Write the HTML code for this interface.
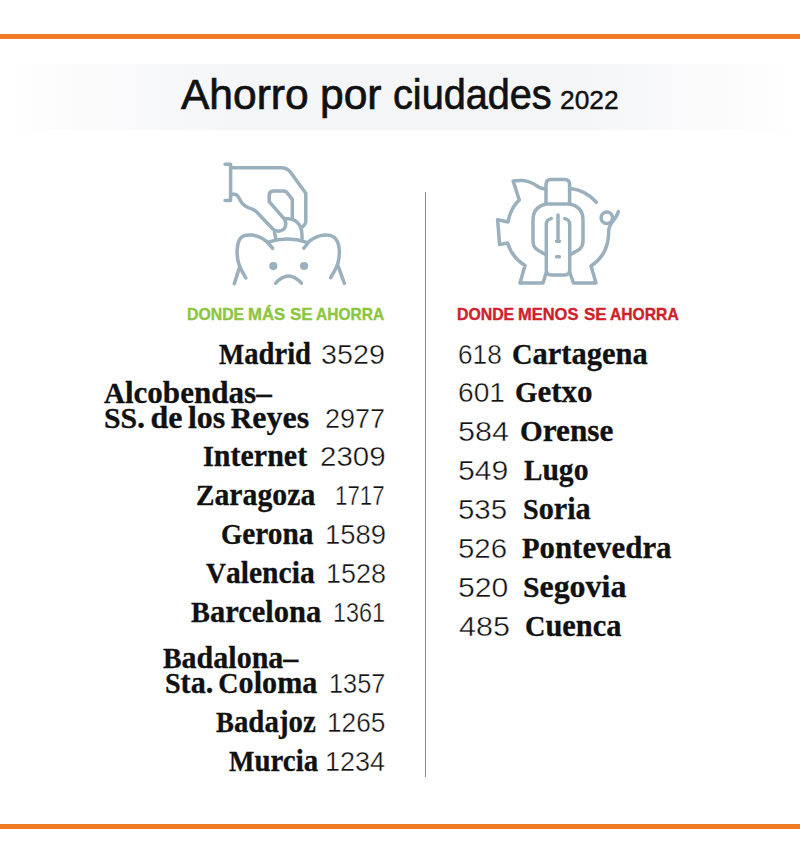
<!DOCTYPE html>
<html lang="es"><head><meta charset="utf-8"><title>Ahorro por ciudades 2022</title>
<style>
html,body{margin:0;padding:0;background:#fff;}
body{width:800px;height:863px;position:relative;overflow:hidden;font-family:"Liberation Sans",sans-serif;}
.bar{position:absolute;left:0;width:800px;height:5px;background:#f07a25;}
.band{position:absolute;left:0;top:64px;width:800px;height:66px;background:linear-gradient(90deg,#fff 0%,#fbfbfc 10%,#f4f5f7 32%,#f4f5f7 70%,#fbfbfc 90%,#fff 100%);}
.div{position:absolute;left:425px;top:192px;width:1.4px;height:585px;background:#8a8a8a;}
span{position:absolute;white-space:nowrap;line-height:1;transform-origin:0 0;display:block;}
.t,.t2,.h,.n{font-family:"Liberation Sans",sans-serif;}
.h{font-weight:700;}
.c{font-family:"Liberation Serif",serif;font-weight:700;word-spacing:-2.5px;-webkit-text-stroke:0.3px #111;}
.n{-webkit-text-stroke:0.4px #fff;}
.t{-webkit-text-stroke:0.7px #111;}
.t2{-webkit-text-stroke:0.4px #111;}
.h{-webkit-text-stroke:0.35px currentColor;}
i{font-style:normal;font-size:.93em;}
svg{position:absolute;left:0;top:0;}
</style></head><body>
<div class="bar" style="top:34px"></div>
<div class="band"></div>
<div class="div"></div>
<svg width="800" height="863" viewBox="0 0 800 863" fill="none" stroke="#9bb0bd" stroke-width="3.5" stroke-linecap="round" stroke-linejoin="round">
<!-- icon 1: hand dropping coin in sad piggy -->
<path d="M225 164.2H230.6V200.4H225"/>
<path d="M230.6 167.7H281.5Q287 167.7 290.3 172L305.8 193.2V221.5Q305.8 224 302.4 227"/>
<path d="M230.6 194.3H235Q237.3 194.5 239.5 199Q242.5 205.5 248.5 207.6Q254 209.3 256.5 211.8L272.8 229Q275 231.2 278.5 231.2Q285.8 230.6 285.8 223.5Q285.8 220.8 283.6 218.2L269.2 201.6V195.5Q269.2 190.9 273.8 190.9H283.6Q285.6 190.9 287 192.6L292.3 199.4V217.5"/>
<path d="M286.6 218.6C287.7 218.8 291.1 218.8 293.1 219.7C295.1 220.6 297.2 222.1 298.6 223.8C300.0 225.5 300.8 227.3 301.4 229.8C302.0 232.3 302.0 237.1 302.1 238.6"/>
<path d="M274.5 232L275.8 239"/>
<!-- pig head -->
<path d="M267.5 242.3Q287.4 235.6 307 242.3"/>
<path d="M272.6 248.3C271.4 247.0 268.0 242.6 265.6 240.7C263.2 238.8 260.8 237.6 258.5 236.7C256.2 235.8 253.9 235.3 251.8 235.1C249.7 234.9 247.7 235.0 246.1 235.3C244.5 235.6 243.2 235.9 242.0 236.9C240.8 237.9 239.5 239.2 238.7 241.3C237.9 243.4 237.4 246.3 237.2 249.3C237.0 252.3 237.2 256.1 237.7 259.1C238.2 262.1 238.8 264.1 240.1 267.2C241.4 270.3 244.9 276.2 245.8 278.0"/>
<path d="M239.8 266.4L234.3 283.7"/>
<path d="M303.9 248.1C305.0 246.8 308.1 242.3 310.4 240.4C312.7 238.5 315.1 237.5 317.5 236.6C319.9 235.7 322.9 235.3 325.0 235.1C327.1 234.9 328.4 235.1 329.9 235.4C331.4 235.8 332.6 236.1 333.9 237.2C335.2 238.3 336.6 239.8 337.5 241.8C338.4 243.8 339.0 246.4 339.2 249.3C339.4 252.2 339.3 256.1 338.8 259.1C338.3 262.1 337.8 264.1 336.4 267.2C335.0 270.3 331.6 275.9 330.7 277.7"/>
<path d="M337.9 265.5L344.4 283.4"/>
<circle cx="273.3" cy="266.1" r="4.1" fill="#9bb0bd" stroke="none"/>
<circle cx="304.1" cy="266" r="4.1" fill="#9bb0bd" stroke="none"/>
<path d="M275.6 283.2Q288.5 268.6 301.5 283.2"/>
<!-- icon 2: piggy bank with tightened belt -->
<path d="M546.0 189.3C544.9 189.0 541.6 188.4 539.3 187.3C537.0 186.2 534.7 184.1 532.0 183.0C529.3 181.9 526.2 181.0 523.0 180.6C519.8 180.2 514.8 180.9 513.1 180.9L519.3 200Q510.5 208 508 222L497.6 219.6L499.6 244.6L507.6 243Q512 257.5 525 265.6L520 283H543L546.2 272.5"/>
<path d="M569.8 272.5L573.5 283H596L591 266Q604 257.5 607.5 243Q608.8 236 608.7 230.5Q609 226 613.5 220.5Q617 216 618.4 211.6"/>
<circle cx="606.8" cy="217.8" r="5.7"/>
<path d="M570.3 188.6Q585 190 596.4 202.2"/>
<path d="M546 203.8V184.2Q546 179.4 550.8 179.4H564.8Q569.6 179.4 569.6 184.2V203.8"/>
<path d="M570 254.8L578 250.2Q583 247.5 583 241V220C583 211.5 578.5 205.8 569.6 204H546.4C537.5 205.8 533 211.5 533 220V241Q533 247.5 538 250.2L546 254.8"/>
<path d="M551.2 218.6Q546.3 219.5 546.3 224.5V270Q546.3 275 551.3 275H564.7Q569.7 275 569.7 270V224.5Q569.7 219.5 564.8 218.6"/>
<path d="M558 215V241M556.5 241.2H559.5M556.5 256.8H559.5"/>
</svg>

<span class="t" style="left:181.20px;top:74px;font-size:42px;color:#111;transform:scaleX(1.0128)">Ahorro</span>
<span class="t" style="left:320.47px;top:74px;font-size:42px;color:#111;transform:scaleX(1.0133)">por</span>
<span class="t" style="left:392.86px;top:74px;font-size:42px;color:#111;transform:scaleX(0.9439)">ciudades</span>
<span class="t2" style="left:560.17px;top:88px;font-size:25.5px;color:#111;transform:scaleX(1.0322)">2022</span>
<span class="h" style="left:186.92px;top:306px;font-size:16.2px;color:#8cc63f;transform:scaleX(0.9781)">DONDE</span>
<span class="h" style="left:247.77px;top:306px;font-size:16.2px;color:#8cc63f;transform:scaleX(1.0292)">MÁS</span>
<span class="h" style="left:290.20px;top:306px;font-size:16.2px;color:#8cc63f;transform:scaleX(1.0460)">SE</span>
<span class="h" style="left:316.00px;top:306px;font-size:16.2px;color:#8cc63f;transform:scaleX(0.9586)">AHORRA</span>
<span class="h" style="left:457.12px;top:306px;font-size:16.2px;color:#d0202a;transform:scaleX(0.9781)">DONDE</span>
<span class="h" style="left:517.98px;top:306px;font-size:16.2px;color:#d0202a;transform:scaleX(1.0177)">MENOS</span>
<span class="h" style="left:584.30px;top:306px;font-size:16.2px;color:#d0202a;transform:scaleX(1.0506)">SE</span>
<span class="h" style="left:609.60px;top:306px;font-size:16.2px;color:#d0202a;transform:scaleX(0.9670)">AHORRA</span>
<span class="c" style="left:219.00px;top:338px;font-size:31px;color:#111;transform:scaleX(0.9243)"><i>M</i>adrid</span>
<span class="n" style="left:321.49px;top:340px;font-size:28.5px;color:#111;transform:scaleX(1.0073)">3529</span>
<span class="c" style="left:103.80px;top:377px;font-size:31px;color:#111;transform:scaleX(1.0028)"><i>A</i>lcobendas–</span>
<span class="c" style="left:104.17px;top:402px;font-size:31px;color:#111;transform:scaleX(1.0325)"><i>SS</i>. de los <i>R</i>eyes</span>
<span class="n" style="left:325.05px;top:404px;font-size:28.5px;color:#111;transform:scaleX(0.9472)">2977</span>
<span class="c" style="left:203.20px;top:440px;font-size:31px;color:#111;transform:scaleX(0.9677)"><i>I</i>nternet</span>
<span class="n" style="left:320.17px;top:442px;font-size:28.5px;color:#111;transform:scaleX(1.0333)">2309</span>
<span class="c" style="left:196.24px;top:479px;font-size:31px;color:#111;transform:scaleX(0.9600)"><i>Z</i>aragoza</span>
<span class="n" style="left:335.44px;top:481px;font-size:28.5px;color:#111;transform:scaleX(0.7812)">1717</span>
<span class="c" style="left:221.05px;top:518px;font-size:31px;color:#111;transform:scaleX(0.9473)"><i>G</i>erona</span>
<span class="n" style="left:324.57px;top:520px;font-size:28.5px;color:#111;transform:scaleX(0.9628)">1589</span>
<span class="c" style="left:206.00px;top:557px;font-size:31px;color:#111;transform:scaleX(0.9554)"><i>V</i>alencia</span>
<span class="n" style="left:325.61px;top:559px;font-size:28.5px;color:#111;transform:scaleX(0.9463)">1528</span>
<span class="c" style="left:191.20px;top:596px;font-size:31px;color:#111;transform:scaleX(0.9849)"><i>B</i>arcelona</span>
<span class="n" style="left:332.86px;top:598px;font-size:28.5px;color:#111;transform:scaleX(0.8224)">1361</span>
<span class="c" style="left:162.80px;top:642px;font-size:31px;color:#111;transform:scaleX(0.9678)"><i>B</i>adalona–</span>
<span class="c" style="left:165.23px;top:667px;font-size:31px;color:#111;transform:scaleX(0.9724)"><i>S</i>ta. <i>C</i>oloma</span>
<span class="n" style="left:328.72px;top:669px;font-size:28.5px;color:#111;transform:scaleX(0.8885)">1357</span>
<span class="c" style="left:216.00px;top:706px;font-size:31px;color:#111;transform:scaleX(0.9320)"><i>B</i>adajoz</span>
<span class="n" style="left:327.16px;top:708px;font-size:28.5px;color:#111;transform:scaleX(0.9215)">1265</span>
<span class="c" style="left:229.20px;top:745px;font-size:31px;color:#111;transform:scaleX(0.9331)"><i>M</i>urcia</span>
<span class="n" style="left:324.61px;top:747px;font-size:28.5px;color:#111;transform:scaleX(0.9472)">1234</span>
<span class="n" style="left:457.88px;top:340px;font-size:28.5px;color:#111;transform:scaleX(0.9190)">618</span>
<span class="c" style="left:511.82px;top:338px;font-size:31px;color:#111;transform:scaleX(0.9840)"><i>C</i>artagena</span>
<span class="n" style="left:457.81px;top:378px;font-size:28.5px;color:#111;transform:scaleX(0.9890)">601</span>
<span class="c" style="left:515.00px;top:376px;font-size:31px;color:#111;transform:scaleX(0.9999)"><i>G</i>etxo</span>
<span class="n" style="left:457.73px;top:417px;font-size:28.5px;color:#111;transform:scaleX(1.0706)">584</span>
<span class="c" style="left:520.19px;top:415px;font-size:31px;color:#111;transform:scaleX(1.0101)"><i>O</i>rense</span>
<span class="n" style="left:457.74px;top:456px;font-size:28.5px;color:#111;transform:scaleX(1.0591)">549</span>
<span class="c" style="left:524.00px;top:454px;font-size:31px;color:#111;transform:scaleX(0.9557)"><i>L</i>ugo</span>
<span class="n" style="left:457.77px;top:495px;font-size:28.5px;color:#111;transform:scaleX(1.0328)">535</span>
<span class="c" style="left:523.02px;top:493px;font-size:31px;color:#111;transform:scaleX(0.9753)"><i>S</i>oria</span>
<span class="n" style="left:457.77px;top:534px;font-size:28.5px;color:#111;transform:scaleX(1.0328)">526</span>
<span class="c" style="left:522.00px;top:532px;font-size:31px;color:#111;transform:scaleX(0.9954)"><i>P</i>ontevedra</span>
<span class="n" style="left:457.74px;top:573px;font-size:28.5px;color:#111;transform:scaleX(1.0591)">520</span>
<span class="c" style="left:522.97px;top:571px;font-size:31px;color:#111;transform:scaleX(1.0290)"><i>S</i>egovia</span>
<span class="n" style="left:458.80px;top:612px;font-size:28.5px;color:#111;transform:scaleX(1.0706)">485</span>
<span class="c" style="left:525.02px;top:610px;font-size:31px;color:#111;transform:scaleX(0.9814)"><i>C</i>uenca</span>
<div class="bar" style="top:824px"></div>
</body></html>
